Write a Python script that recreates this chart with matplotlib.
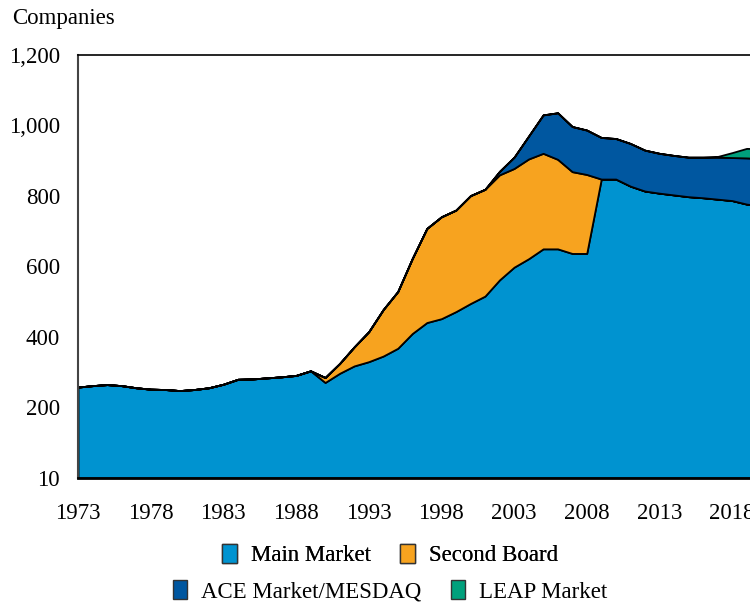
import matplotlib.pyplot as plt
from matplotlib.patches import Patch

years = list(range(1973, 2021))

main_market = [258, 262, 265, 262, 256, 252, 251, 248, 251, 256,
               266, 280, 281, 284, 287, 291, 304, 271, 297, 318,
               330, 346, 368, 410, 441, 452, 472, 495, 516, 562,
               598, 622, 650, 650, 637, 637, 848, 848, 828, 814,
               808, 803, 798, 795, 791, 787, 777, 772]
second_board = [0] * 17 + [14, 28, 54, 85, 132, 161, 213, 267, 289,
                           288, 306, 303, 298, 280, 283, 271, 254, 232, 224] + [0] * 12
ace_market = [0] * 29 + [10, 32, 65, 109, 132, 128, 126, 118, 115, 121,
                         116, 113, 112, 112, 115, 119, 122, 131, 134]
leap_market = [0] * 44 + [2, 14, 27, 28]

labels = ['Main Market', 'Second Board', 'ACE Market/MESDAQ', 'LEAP Market']
colors = ['#0093d0', '#f7a31f', '#0057a0', '#00a07c']

plt.rcParams['font.family'] = ['Liberation Serif', 'DejaVu Serif']
fs = 16.5

fig = plt.figure(figsize=(7.5, 6.04), dpi=100)
ax = fig.add_axes([0.104, 0.2086, 0.906, 0.7004])

ax.stackplot(years, main_market, second_board, ace_market, leap_market,
             colors=colors, edgecolor='black', linewidth=1.3)

ax.set_xlim(1973, 2019.75)
ax.set_ylim(0, 1200)
ax.set_xticks(range(1973, 2019, 5))
ax.set_yticks(range(0, 1201, 200))
ax.set_yticklabels(['10', '200', '400', '600', '800', '1,000', '1,200'])
ax.tick_params(axis='both', length=0, labelsize=fs)
ax.tick_params(axis='x', pad=18)
ax.tick_params(axis='y', pad=13)

ax.spines['right'].set_visible(False)
ax.spines['left'].set_color('#444444')
ax.spines['left'].set_linewidth(1.5)
ax.spines['top'].set_linewidth(1.2)
ax.spines['bottom'].set_linewidth(2)

fig.text(0.016, 0.97, 'Companies', fontsize=fs, ha='left', va='center')

handles = [Patch(facecolor=c, edgecolor='#333333', linewidth=1) for c in colors]
leg_kw = dict(frameon=False, fontsize=fs, handlelength=0.63, handleheight=0.92,
              handletextpad=0.6, columnspacing=1.3, ncol=2, loc='center')
leg1 = fig.legend(handles[:2], labels[:2], bbox_to_anchor=(0.52, 0.081), **leg_kw)
fig.add_artist(leg1)
fig.legend(handles[2:], labels[2:], bbox_to_anchor=(0.52, 0.021), **leg_kw)

fig.savefig('out.png', dpi=100)
